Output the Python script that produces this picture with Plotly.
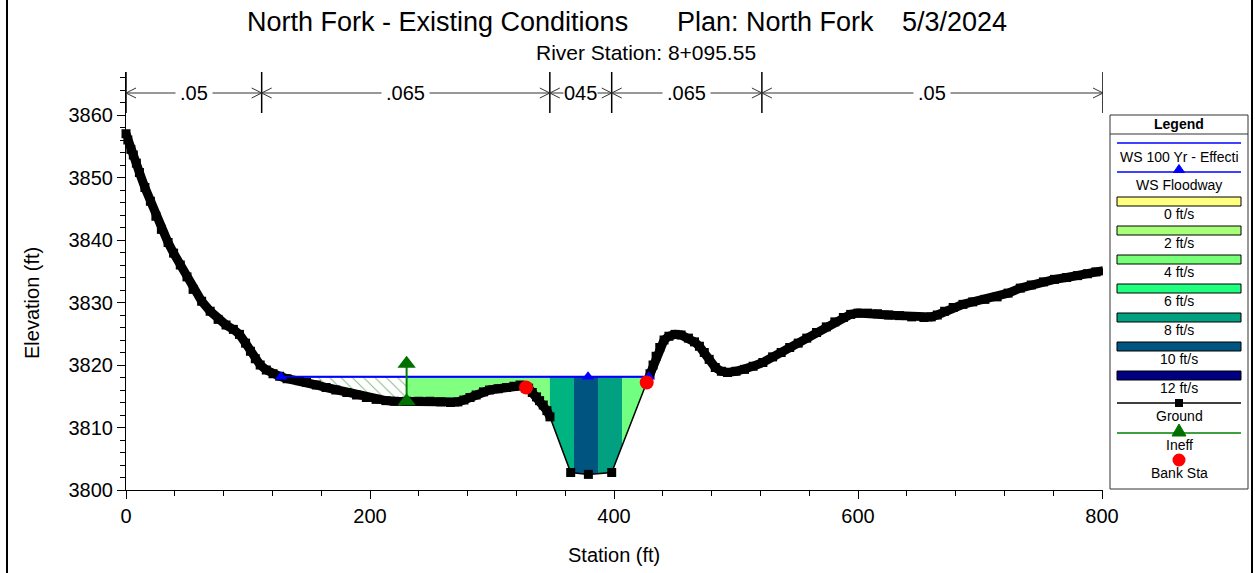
import numpy as np
import plotly.graph_objects as go

W, H = 1255, 573
FONT = "Liberation Sans"

# ---- cross-section data -------------------------------------------------
station = [0.0, 1.5, 4.0, 6.0, 8.5, 11.0, 15.5, 20.0, 24.5, 29.0, 34.5, 39.0, 44.5,
           50.0, 55.0, 62.0, 69.0, 75.5, 82.0, 88.0, 93.0, 98.0, 102.0, 106.0,
           110.0, 115.0, 120.5, 126.0, 132.0, 142.0, 148.0, 156.0, 164.0, 172.0,
           181.0, 189.0, 197.0, 205.0, 213.0, 220.0, 230.0, 240.0, 249.0, 258.0,
           266.0, 272.0, 277.0, 282.0, 287.0, 293.0, 298.0, 305.0, 312.0, 318.0,
           323.0, 326.0, 330.0, 333.0, 336.5, 339.0, 342.0, 345.0, 347.5,
           364.5, 379.0, 398.1,
           426.8, 429.5, 432.0, 434.5, 437.5, 441.0, 445.0, 450.0, 455.0, 461.0,
           466.0, 470.0, 474.0, 478.0, 483.0, 488.0, 493.0, 500.0, 507.0, 514.0,
           522.0, 530.0, 537.0, 544.0, 551.0, 558.0, 566.0, 574.0, 581.0, 588.0,
           594.0, 600.0, 608.0, 616.0, 625.0, 634.0, 644.0, 654.0, 660.0, 665.0,
           671.0, 678.0, 686.0, 694.0, 704.0, 714.0, 723.0, 733.0, 742.0, 752.0,
           761.0, 771.0, 780.0, 788.0, 795.0, 801.0]
elevation = [3857.0, 3856.0, 3854.5, 3853.6, 3852.3, 3850.8, 3848.4, 3846.2, 3843.8,
             3841.7, 3839.6, 3837.9, 3836.0, 3834.1, 3832.1, 3830.2, 3828.6, 3827.3,
             3826.4, 3825.7, 3824.9, 3823.5, 3822.2, 3821.0, 3820.0, 3819.2, 3818.6,
             3818.2, 3817.8, 3817.5, 3817.2, 3816.8, 3816.4, 3816.0, 3815.6, 3815.2,
             3814.8, 3814.5, 3814.3, 3814.2, 3814.2, 3814.2, 3814.2, 3814.1, 3814.0,
             3814.1, 3814.4, 3814.8, 3815.2, 3815.7, 3816.0, 3816.2, 3816.4, 3816.6,
             3816.8, 3816.7, 3816.3, 3815.6, 3814.9, 3814.3, 3813.6, 3812.7, 3811.7,
             3802.8, 3802.5, 3802.8,
             3817.2, 3818.6, 3820.0, 3821.4, 3822.8, 3824.0, 3824.6, 3824.9, 3824.8,
             3824.3, 3823.7, 3823.0, 3822.0, 3820.9, 3819.6, 3819.0, 3818.8, 3819.0,
             3819.3, 3819.8, 3820.4, 3821.3, 3822.0, 3822.8, 3823.5, 3824.3, 3825.2,
             3826.1, 3826.9, 3827.6, 3828.1, 3828.3, 3828.3, 3828.2, 3828.0, 3827.9,
             3827.7, 3827.6, 3827.7, 3828.0, 3828.6, 3829.2, 3829.7, 3830.1, 3830.5,
             3830.9, 3831.5, 3832.3, 3832.8, 3833.3, 3833.7, 3834.0, 3834.3, 3834.6,
             3834.9, 3835.1]

ws_elev = 3818.13                 # water surface (100 yr effective / floodway)
ws_mid_station = 378.7            # channel marker on the floodway profile
bank_station = [327.9, 426.8]
bank_elev = [3816.4, 3817.2]
ineff_station = 230.0
ineff_elev = 3820.2

# Manning's n breaks and values
n_breaks = [0.0, 111.2, 347.4, 398.1, 521.2, 800.8]
n_labels = [".05", ".065", "045", ".065", ".05"]

# velocity distribution slices (station limits between the water edges)
vel_breaks = [230.0, 347.4, 367.2, 386.9, 406.6]
vel_colors = ["#80FF80", "#00B482", "#005480", "#00A080", "#70FF80"]

legend_swatches = ["0 ft/s", "2 ft/s", "4 ft/s", "6 ft/s", "8 ft/s", "10 ft/s", "12 ft/s"]
swatch_colors = ["#FFFF80", "#A8FF78", "#78FF78", "#20FF80", "#00A080", "#005480", "#000080"]

# ---- geometry helpers ----------------------------------------------------
st = np.array(station)
el = np.array(elevation)


def water_edges(z):
    """Stations where the ground crosses the water surface nearest the channel."""
    wet = el < z
    idx = np.where(wet)[0]
    i0, i1 = idx[0], idx[-1]
    left = st[i0 - 1] + (el[i0 - 1] - z) / (el[i0 - 1] - el[i0]) * (st[i0] - st[i0 - 1])
    right = st[i1] + (z - el[i1]) / (el[i1 + 1] - el[i1]) * (st[i1 + 1] - st[i1])
    return float(left), float(right)


ws_left, ws_right = water_edges(ws_elev)


def slice_polygon(s0, s1, z):
    inner = [(s, e) for s, e in zip(st, el) if s0 < s < s1]
    xs = [s0, s1, s1] + [p[0] for p in reversed(inner)] + [s0, s0]
    ys = [z, z, min(float(np.interp(s1, st, el)), z)] + [p[1] for p in reversed(inner)] + \
         [min(float(np.interp(s0, st, el)), z), z]
    return xs, ys


X0, X1, Y0, Y1 = 126, 1103, 72, 490     # plot area in pixels
X_RANGE = [0, 800.8]
Y_RANGE = [3800, 3800 + (Y1 - Y0) / 6.25]


def px(x):
    return x / W


def py(y):
    return 1 - y / H


fig = go.Figure()

# ineffective (hatched) area
hx, hy = slice_polygon(ws_left, vel_breaks[0], ws_elev)
fig.add_trace(go.Scatter(x=hx, y=hy, mode="lines", fill="toself", line=dict(width=0),
                         fillcolor="white",
                         fillpattern=dict(shape="\\", fgcolor="#007800", bgcolor="white",
                                          size=8, solidity=0.12),
                         hoverinfo="skip", showlegend=False))

# velocity slices
edges = vel_breaks + [ws_right]
for s0, s1, c in zip(edges[:-1], edges[1:], vel_colors):
    vx, vy = slice_polygon(s0, s1, ws_elev)
    fig.add_trace(go.Scatter(x=vx, y=vy, mode="lines", fill="toself", fillcolor=c,
                             line=dict(width=0), hoverinfo="skip", showlegend=False))

# water surface line (effective run)
fig.add_trace(go.Scatter(x=[ws_left, ws_right], y=[ws_elev, ws_elev], mode="lines",
                         line=dict(color="#0000FF", width=2), name="WS 100 Yr - Effecti",
                         showlegend=False))

# ground: dense survey band on the overbanks + points
over = (st <= 347.5) | (st >= 426.8)
gx = [s if o else None for s, o in zip(station, over)]
gy = [e if o else None for e, o in zip(elevation, over)]
fig.add_trace(go.Scatter(x=gx, y=gy, mode="lines", connectgaps=False,
                         line=dict(color="black", width=9), hoverinfo="skip",
                         showlegend=False, cliponaxis=False))
fig.add_trace(go.Scatter(x=station, y=elevation, mode="lines+markers",
                         line=dict(color="black", width=1.5),
                         marker=dict(symbol="square", size=9, color="black"),
                         name="Ground", showlegend=False, cliponaxis=False))

# floodway water surface markers
fig.add_trace(go.Scatter(x=[ws_left, ws_mid_station, ws_right], y=[ws_elev] * 3,
                         mode="lines+markers", line=dict(color="#0000FF", width=1.5),
                         marker=dict(symbol="triangle-up", size=11, color="#0000FF"),
                         name="WS Floodway", showlegend=False, cliponaxis=False))

# ineffective flow marker
g_ineff = float(np.interp(ineff_station, st, el))
fig.add_trace(go.Scatter(x=[ineff_station, ineff_station], y=[g_ineff, ineff_elev],
                         mode="lines+markers", line=dict(color="#008000", width=2),
                         marker=dict(symbol="triangle-up", size=16, color="#007000"),
                         name="Ineff", showlegend=False, cliponaxis=False))

# bank stations
fig.add_trace(go.Scatter(x=bank_station, y=bank_elev, mode="markers",
                         marker=dict(symbol="circle", size=14, color="#FF0000"),
                         name="Bank Sta", showlegend=False, cliponaxis=False))

shapes = []
annotations = []

# Manning's n bar
n_y = py(93)
shapes.append(dict(type="line", xref="x", yref="paper", x0=n_breaks[0], x1=n_breaks[-1],
                   y0=n_y, y1=n_y, line=dict(color="#333333", width=1)))
arrow_dx = 10 / ((X1 - X0) / (X_RANGE[1] - X_RANGE[0]))
arrow_dy = 5 / H
for i, s in enumerate(n_breaks):
    shapes.append(dict(type="line", xref="x", yref="paper", x0=s, x1=s,
                       y0=py(113), y1=py(72), line=dict(color="black", width=1.5)))
    if i > 0:
        shapes.append(dict(type="path", xref="x", yref="paper",
                           path=f"M {s - arrow_dx},{n_y + arrow_dy} L {s},{n_y} L {s - arrow_dx},{n_y - arrow_dy}",
                           line=dict(color="#333333", width=1)))
    if i < len(n_breaks) - 1:
        shapes.append(dict(type="path", xref="x", yref="paper",
                           path=f"M {s + arrow_dx},{n_y + arrow_dy} L {s},{n_y} L {s + arrow_dx},{n_y - arrow_dy}",
                           line=dict(color="#333333", width=1)))
for a, b, lab in zip(n_breaks[:-1], n_breaks[1:], n_labels):
    annotations.append(dict(x=(a + b) / 2, y=n_y, xref="x", yref="paper", text=lab,
                            showarrow=False, bgcolor="white",
                            borderpad=4 if b - a > 100 else 0,
                            font=dict(family=FONT, size=20, color="black"),
                            xanchor="center", yanchor="middle"))

# titles
for txt, xc, yc, sz in [("North Fork - Existing Conditions", 437, 22, 27),
                        ("Plan: North Fork", 775, 22, 27),
                        ("5/3/2024", 954, 22, 27),
                        ("River Station: 8+095.55", 646, 52, 21)]:
    annotations.append(dict(x=px(xc), y=py(yc), xref="paper", yref="paper", text=txt,
                            showarrow=False, font=dict(family=FONT, size=sz, color="black"),
                            xanchor="center", yanchor="middle"))
annotations.append(dict(x=px(614), y=py(555), xref="paper", yref="paper", text="Station (ft)",
                        showarrow=False, font=dict(family=FONT, size=20, color="black"),
                        xanchor="center", yanchor="middle"))
annotations.append(dict(x=px(32), y=py(303), xref="paper", yref="paper", text="Elevation (ft)",
                        textangle=-90, showarrow=False,
                        font=dict(family=FONT, size=20, color="black"),
                        xanchor="center", yanchor="middle"))

# outer frame
for xf in (7, 1252):
    shapes.append(dict(type="line", xref="paper", yref="paper", x0=px(xf), x1=px(xf),
                       y0=0, y1=1, line=dict(color="black", width=2)))

# legend panel
LX0, LX1, LY0, LY1 = 1110, 1248, 115, 489
LC = (1117 + 1241) / 2
shapes.append(dict(type="rect", xref="paper", yref="paper", x0=px(LX0), x1=px(LX1),
                   y0=py(LY1), y1=py(LY0), line=dict(color="#333333", width=1),
                   fillcolor="white", layer="above"))
shapes.append(dict(type="line", xref="paper", yref="paper", x0=px(LX0), x1=px(LX1),
                   y0=py(134), y1=py(134), line=dict(color="#333333", width=1), layer="above"))


def leg_text(txt, y, bold=False):
    annotations.append(dict(x=px(LC), y=py(y), xref="paper", yref="paper",
                            text=f"<b>{txt}</b>" if bold else txt, showarrow=False,
                            font=dict(family=FONT, size=14, color="black"),
                            xanchor="center", yanchor="middle"))


def leg_line(y, color, width=1.5):
    shapes.append(dict(type="line", xref="paper", yref="paper", x0=px(1117), x1=px(1241),
                       y0=py(y), y1=py(y), line=dict(color=color, width=width), layer="above"))


def leg_triangle(cx, cy, w, h, color):
    shapes.append(dict(type="path", xref="paper", yref="paper",
                       path=f"M {px(cx - w / 2)},{py(cy + h / 2)} L {px(cx + w / 2)},{py(cy + h / 2)} "
                            f"L {px(cx)},{py(cy - h / 2)} Z",
                       fillcolor=color, line=dict(color=color, width=1), layer="above"))


leg_text("Legend", 124, bold=True)
leg_line(143, "#0000FF")
leg_text("WS 100 Yr - Effecti", 157)
leg_line(172, "#0000FF")
leg_triangle(LC, 168.5, 11, 8, "#0000FF")
leg_text("WS Floodway", 185)
for k, (lab, col) in enumerate(zip(legend_swatches, swatch_colors)):
    top = 197 + k * 29
    shapes.append(dict(type="rect", xref="paper", yref="paper", x0=px(1117), x1=px(1241),
                       y0=py(top + 9), y1=py(top), fillcolor=col,
                       line=dict(color="black", width=1), layer="above"))
    leg_text(lab, top + 17)
leg_line(403, "black")
shapes.append(dict(type="rect", xref="paper", yref="paper", x0=px(LC - 4), x1=px(LC + 4),
                   y0=py(407), y1=py(399), fillcolor="black", line=dict(width=0), layer="above"))
leg_text("Ground", 416)
leg_line(433, "#008000")
leg_triangle(LC, 430, 14, 12, "#007000")
leg_text("Ineff", 445)
shapes.append(dict(type="circle", xref="paper", yref="paper", x0=px(LC - 6.5), x1=px(LC + 6.5),
                   y0=py(466.5), y1=py(453.5), fillcolor="#FF0000", line=dict(width=0),
                   layer="above"))
leg_text("Bank Sta", 473)

axis_common = dict(showline=True, linecolor="black", linewidth=1, ticks="outside",
                   tickcolor="black", tickwidth=1, ticklen=8, showgrid=False, zeroline=False,
                   tickfont=dict(family=FONT, size=20, color="black"), automargin=False)

fig.update_layout(
    width=W, height=H,
    margin=dict(l=0, r=0, t=0, b=0, pad=0),
    paper_bgcolor="white", plot_bgcolor="white",
    showlegend=False,
    xaxis=dict(domain=[px(X0), px(X1)], range=X_RANGE, dtick=200, tick0=0,
               minor=dict(dtick=40, ticks="outside", ticklen=5, tickcolor="black"),
               **axis_common),
    yaxis=dict(domain=[py(Y1), py(Y0)], range=Y_RANGE, dtick=10, tick0=3800,
               minor=dict(dtick=2, ticks="outside", ticklen=5, tickcolor="black"),
               **axis_common),
    shapes=shapes,
    annotations=annotations,
)

fig.write_html("out.html")
